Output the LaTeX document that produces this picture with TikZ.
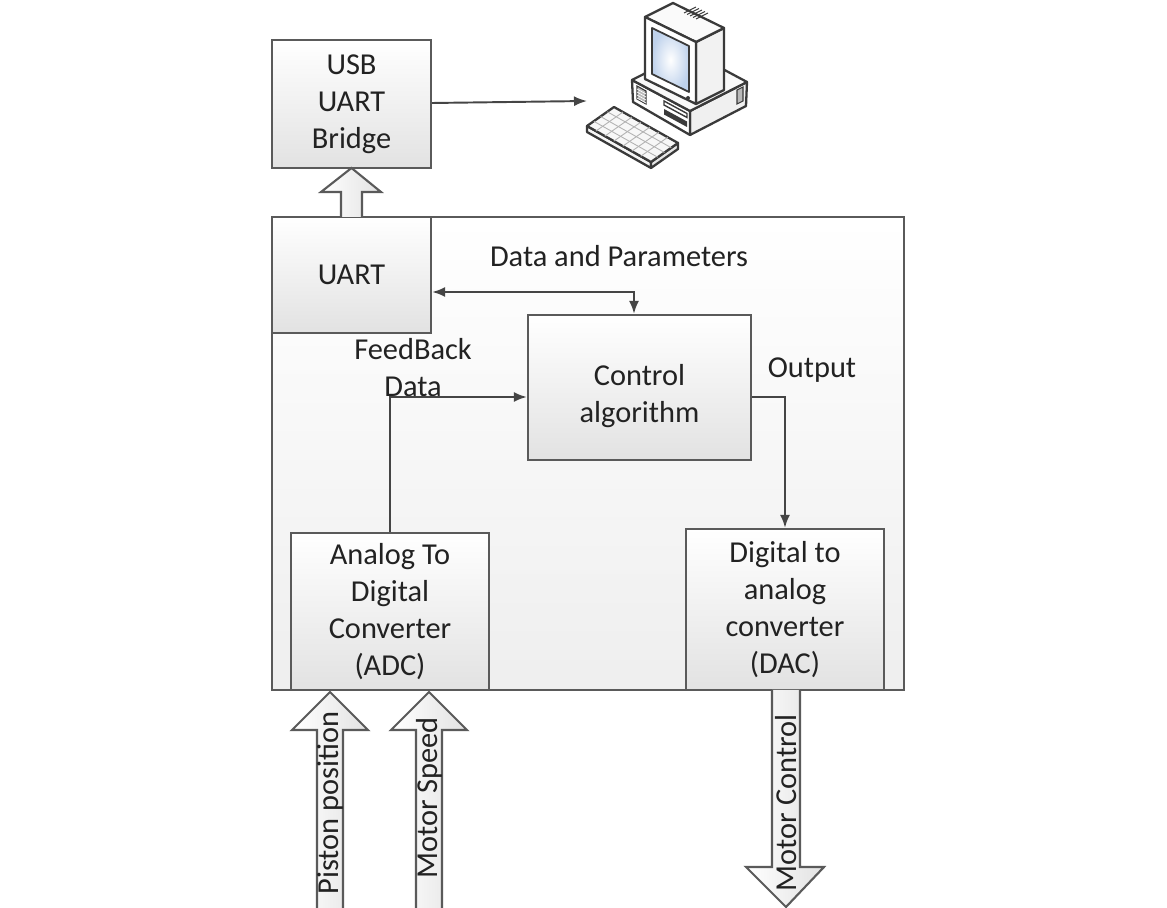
\documentclass[tikz,border=0pt]{standalone}
\usepackage{fontspec}
\setmainfont{Carlito}
\usetikzlibrary{arrows.meta,calc}
\definecolor{edge}{HTML}{5A5A5A}
\definecolor{wire}{HTML}{454545}
\definecolor{ink}{HTML}{222222}
\definecolor{shadebot}{HTML}{E2E2E2}
\definecolor{pcline}{HTML}{3A3A3A}
\definecolor{screenblue}{HTML}{BFD2EC}
\newcommand\lblfont{\fontsize{17.3}{21}\selectfont}
\tikzset{
  blk/.style={draw=edge, line width=1.35pt, top color=white, bottom color=shadebot,
    inner sep=0pt, align=center, font=\lblfont, text=ink},
  lbl/.style={font=\lblfont, text=ink, align=center, inner sep=0pt},
  conn/.style={draw=wire, line width=1.1pt, ->},
  bigarrow/.style={draw=edge, line width=1.2pt, left color=white, right color=shadebot},
  pc/.style={draw=pcline, line width=1.3pt, line join=round},
}
\begin{document}
\begin{tikzpicture}[x=0.02cm, y=-0.02cm, >={Latex[length=0.26cm,width=0.2cm]}]
\useasboundingbox (0,0) rectangle (1167,908);

% ---------- blocks ----------
\node[blk, minimum width=3.18cm, minimum height=2.56cm] (bridge) at (351.5,104) {USB\\UART\\Bridge};
\node[blk, bottom color=gray!13, minimum width=12.64cm, minimum height=9.46cm] (mcu) at (588,453.5) {};
\node[blk, minimum width=3.18cm, minimum height=2.32cm] (uart) at (351.5,275) {UART};
\node[blk, minimum width=4.46cm, minimum height=2.9cm] (ctrl) at (639.5,387.5) {};
\node[lbl] (ctrltxt) at (639.5,396) {Control\\algorithm};
\node[blk, minimum width=3.96cm, minimum height=3.14cm] (adc) at (390,611.5) {Analog To\\Digital\\Converter\\(ADC)};
\node[blk, minimum width=3.96cm, minimum height=3.22cm] (dac) at (785,609.5) {Digital to\\analog\\converter\\(DAC)};

% ---------- labels ----------
\node[lbl] (dplbl) at (619,256) {Data and Parameters};
\node[lbl] (fblbl) at (413,368) {FeedBack\\Data};
\node[lbl] (outlbl) at (812,370) {Output};

% ---------- connectors ----------
\draw[conn, <->] ([yshift=-0.34cm]uart.east) -| ([xshift=-0.11cm]ctrl.north);
\draw[conn] (adc.north) |- ([yshift=-0.19cm]ctrl.west);
\draw[conn] ([yshift=-0.19cm]ctrl.east) -| (dac.north);
\coordinate (pcin) at (587,101);
\draw[conn] ([yshift=0.02cm]bridge.east) -- (pcin);

% ---------- hollow bus arrows ----------
\path[bigarrow] (341,217) -- (341,192) -- (321,192) -- (351.5,168) -- (381,192) -- (362,192) -- (362,217);
\path[bigarrow] (317,908) -- (317,730) -- (292,730) -- (330,692) -- (368,730) -- (343,730) -- (343,908);
\node[lbl, rotate=90] (piston) at (330,803) {Piston position};
\path[bigarrow] (416,908) -- (416,730) -- (391,730) -- (429,692) -- (467,730) -- (442,730) -- (442,908);
\node[lbl, rotate=90] (mspeed) at (429,798) {Motor Speed};
\path[bigarrow] (772,690) -- (772,867) -- (746,867) -- (786,907) -- (824,867) -- (800,867) -- (800,690);
\node[lbl, rotate=90] (mctrl) at (786,803) {Motor Control};

% ---------- desktop computer ----------
% case
\path[pc, fill=gray!12] (690,111) -- (747,82) -- (746,106) -- (690,135) -- cycle;
\path[pc, fill=white] (632,80) -- (690,111) -- (690,135) -- (633,102) -- cycle;
\path[pc, fill=gray!5] (632,80) -- (690,111) -- (747,82) -- (689,51) -- cycle;
\path[draw=pcline, fill=gray!55, line width=0.6pt] (637,86) -- (646,91) -- (646,104) -- (637,99) -- cycle;
\foreach \k in {0,1,2,3} \draw[white, line width=0.4pt] (637,{89+3*\k}) -- (646,{94+3*\k});
\path[draw=pcline, fill=white, line width=0.8pt] (664,101) -- (687,113.5) -- (687,117.5) -- (664,105) -- cycle;
\path[fill=pcline] (664,109) -- (687,121.5) -- (687,127) -- (664,114.5) -- cycle;
\path[draw=pcline, fill=gray!55, line width=0.6pt] (737,90) -- (743,87) -- (743,101) -- (737,104) -- cycle;
% monitor
\path[pc, fill=gray!10] (696,104) -- (696,42) -- (724,28) -- (724,90) -- cycle;
\path[pc, fill=gray!4] (645,17) -- (696,42) -- (724,28) -- (673,3) -- cycle;
\foreach \k in {0,1,2,3,4} \draw[pcline, line width=0.6pt] ({684+3*\k},{13+1.5*\k}) -- ({696+3*\k},{7+1.5*\k});
\path[pc, fill=white] (645,17) -- (696,42) -- (696,104) -- (645,79) -- cycle;
\path[pc, line width=1pt, inner color=white, outer color=screenblue] (652,28) -- (689,46) -- (689,92) -- (652,74) -- cycle;
\fill[pcline] (688,98) circle (2);
% keyboard
\coordinate (kl) at (587,126);
\coordinate (kt) at (614,107);
\coordinate (kr) at (678,143);
\coordinate (kb) at (651,162);
\path[pc, fill=gray!8] (kl) -- (kb) -- ($(kb)+(0,6)$) -- ($(kl)+(0,6)$) -- cycle;
\path[pc, fill=gray!20] (kb) -- (kr) -- ($(kr)+(0,6)$) -- ($(kb)+(0,6)$) -- cycle;
\path[pc, fill=gray!6] (kl) -- (kt) -- (kr) -- (kb) -- cycle;
\foreach \f in {0.25,0.5,0.75}
  \draw[gray!60, line width=0.5pt] ($(kl)!\f!(kt)$) -- ($(kb)!\f!(kr)$);
\foreach \g in {0.14,0.28,0.42,0.56,0.70,0.84}
  \draw[gray!60, line width=0.5pt] ($(kl)!\g!(kb)$) -- ($(kt)!\g!(kr)$);
\end{tikzpicture}
\end{document}
